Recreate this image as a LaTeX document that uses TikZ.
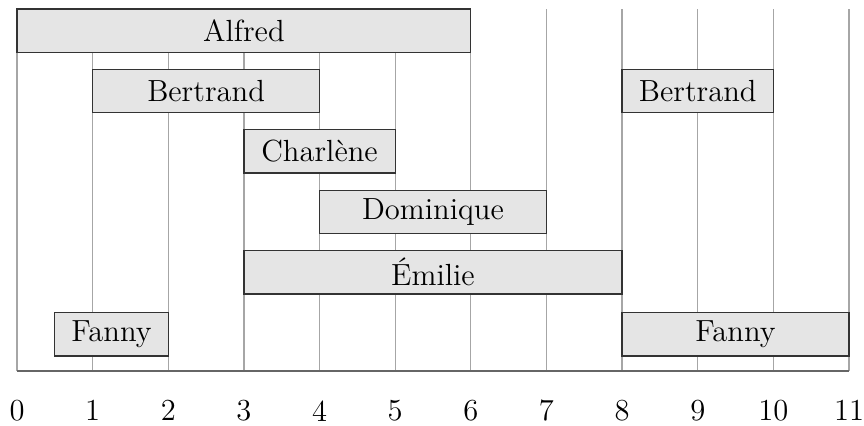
\documentclass[tikz,border=0pt]{standalone}
\begin{document}
\begin{tikzpicture}[x=1cm,y=1cm,
  bar/.style={draw=black!80,fill=black!10,line width=0.5pt},
  grid/.style={draw=black!35,line width=0.5pt},
  lab/.style={font=\fontsize{11.5}{14}\selectfont,inner sep=0pt},
  ticklab/.style={font=\fontsize{11.5}{14}\selectfont,inner sep=0pt}]
\useasboundingbox (-0.2248,0) rectangle (11.198,-5.619);
\def\h{0.285}
% grid lines
\foreach \i in {0,...,11} {
  \draw[grid] (\i,-0.12) -- (\i,-4.905);
  \node[ticklab] (t\i) at (\i,-5.43) {\i};
}
\draw[draw=black!60,line width=0.6pt] (0,-4.905) -- (11,-4.905);
% bars
\newcommand{\gbar}[5]{%
  \draw[bar] (#1,#3-\h) rectangle (#2,#3+\h);
  \node[lab] (#4) at ({(#1+#2)/2},#3) {#5};}
\gbar{0}{6}{-0.405}{a}{Alfred}
\gbar{1}{4}{-1.205}{b1}{Bertrand}
\gbar{8}{10}{-1.205}{b2}{Bertrand}
\gbar{3}{5}{-2.0}{c}{Charlène}
\gbar{4}{7}{-2.8}{d}{Dominique}
\gbar{3}{8}{-3.6}{e}{Émilie}
\gbar{0.5}{2}{-4.42}{f1}{Fanny}
\gbar{8}{11}{-4.42}{f2}{Fanny}
\end{tikzpicture}
\end{document}
